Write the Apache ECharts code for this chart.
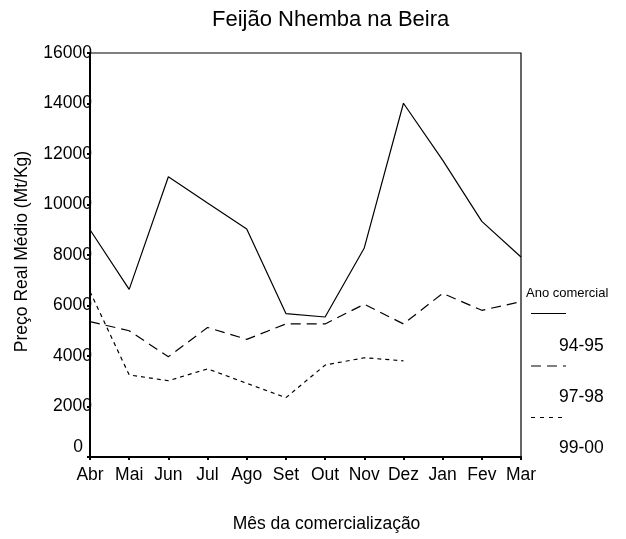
<!DOCTYPE html>
<html><head><meta charset="utf-8">
<script src="https://cdn.jsdelivr.net/npm/echarts@6/dist/echarts.min.js"></script>
<style>html,body{margin:0;padding:0;background:#fff}#c{width:626px;height:539px}</style>
</head><body><div id="c"></div>
<script>
const months = ['Abr','Mai','Jun','Jul','Ago','Set','Out','Nov','Dez','Jan','Fev','Mar'];
const s9495 = [9000, 6640, 11100, 10060, 9030, 5680, 5545, 8280, 14010, 11760, 9330, 7920];
const s9798 = [5360, 5000, 3970, 5130, 4660, 5270, 5270, 6050, 5270, 6480, 5810, 6150];
const s9900 = [6550, 3250, 3020, 3490, 2920, 2350, 3640, 3930, 3810, null, null, null];
const seriesNames = ['94-95','97-98','99-00'];
const yTicks = [0,2000,4000,6000,8000,10000,12000,14000,16000];

const font = 'Liberation Sans, Arial, sans-serif';
const FS = 17.5;
const chart = echarts.init(document.getElementById('c'), null, {renderer:'canvas'});
const dashes = ['solid', [10,6], [4,4]];
const data = [s9495, s9798, s9900];
chart.setOption({
  animation:false,
  backgroundColor:'#fff',
  title:{text:'Feijão Nhemba na Beira', left:207, top:4,
    textStyle:{fontFamily:font, fontSize:22, fontWeight:'normal', color:'#000'}},
  grid:{left:90, right:105, top:53, bottom:82, show:true, borderColor:'#000', borderWidth:1.2},
  xAxis:{type:'category', data:months, boundaryGap:false,
    name:'Mês da comercialização', nameLocation:'middle', nameGap:58,
    nameTextStyle:{fontFamily:font, fontSize:FS, color:'#000', padding:[0,0,0,42]},
    axisLine:{lineStyle:{color:'#000', width:2}},
    axisTick:{show:true, alignWithLabel:true, length:3, lineStyle:{color:'#000', width:2}},
    axisLabel:{fontFamily:font, fontSize:FS, color:'#000', margin:9, interval:0},
    splitLine:{show:false}},
  yAxis:{type:'value', min:0, max:16000, interval:2000,
    name:'Preço Real Médio (Mt/Kg)', nameLocation:'middle', nameGap:59,
    nameTextStyle:{fontFamily:font, fontSize:FS, color:'#000', padding:[0,0,0,7]},
    axisLine:{show:true, lineStyle:{color:'#000', width:2}},
    axisTick:{show:true, length:3, lineStyle:{color:'#000', width:2}},
    axisLabel:{fontFamily:font, fontSize:FS, color:'#000', margin:-2,
      formatter:v => v===0 ? '{z|0}' : String(v),
      rich:{z:{fontFamily:font, fontSize:FS, color:'#000', padding:[0,9,20,0]}}},
    splitLine:{show:false}},
  series: seriesNames.map((n,i)=>({
    name:n, type:'line', data:data[i], symbol:'none', connectNulls:false,
    lineStyle:{color:'#000', width:1.2, type:dashes[i]}, z:3
  })),
  graphic:[
    {type:'text', x:526, y:293, style:{text:'Ano comercial', font:'13px '+font, fill:'#000', verticalAlign:'middle'}},
    {type:'line', shape:{x1:531,y1:313.5,x2:566,y2:313.5}, style:{stroke:'#000', lineWidth:1.2}},
    {type:'text', x:559, y:346, style:{text:'94-95', font:FS+'px '+font, fill:'#000', verticalAlign:'middle'}},
    {type:'line', shape:{x1:531,y1:366,x2:566,y2:366}, style:{stroke:'#000', lineWidth:1.2, lineDash:[10,6]}},
    {type:'text', x:559, y:397, style:{text:'97-98', font:FS+'px '+font, fill:'#000', verticalAlign:'middle'}},
    {type:'line', shape:{x1:531,y1:417.5,x2:566,y2:417.5}, style:{stroke:'#000', lineWidth:1.2, lineDash:[4,5]}},
    {type:'text', x:559, y:448, style:{text:'99-00', font:FS+'px '+font, fill:'#000', verticalAlign:'middle'}}
  ]
});
</script></body></html>
